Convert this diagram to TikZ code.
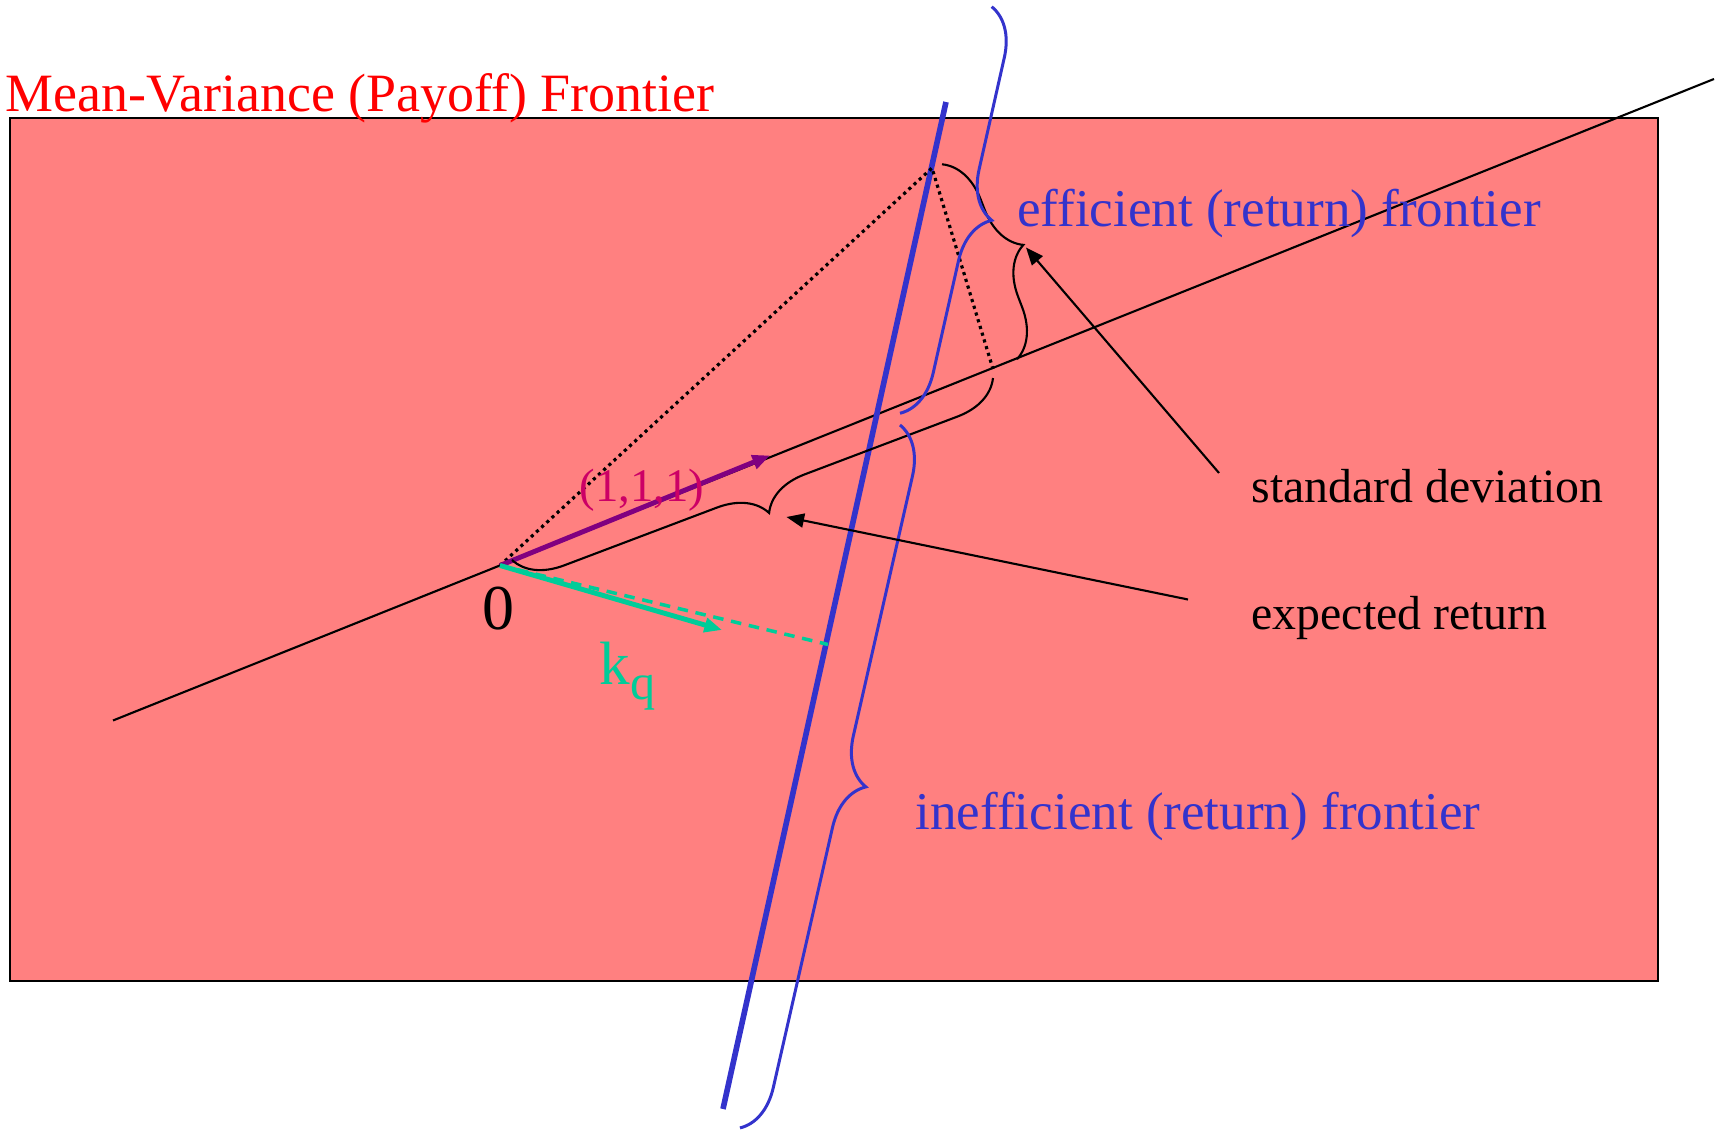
\documentclass[tikz,border=0pt]{standalone}
\usepackage{fontspec}
\setmainfont{Liberation Serif}
\usepackage{tikz}
\usetikzlibrary{arrows.meta, decorations.pathreplacing}
\definecolor{PanelSalmon}{HTML}{FF8080}
\definecolor{TitleRed}{HTML}{FF0000}
\definecolor{FrontierBlue}{HTML}{3333CC}
\definecolor{KqGreen}{HTML}{00CC99}
\definecolor{OnesPurple}{HTML}{800080}
\definecolor{OnesCrimson}{HTML}{CC0066}

\tikzset{
  bigtext/.style={anchor=base west, inner sep=0pt, font=\fontsize{15.1pt}{18pt}\selectfont},
  smalltext/.style={anchor=base west, inner sep=0pt, font=\fontsize{13.6pt}{16pt}\selectfont},
  blackbrace/.style={decorate, line width=0.6pt, decoration={brace, amplitude=0.47cm}},
  bluebrace/.style={decorate, line width=0.85pt, color=FrontierBlue, decoration={brace, amplitude=0.47cm}}
}

\begin{document}
\begin{tikzpicture}[>={Triangle[length=5pt,width=4pt]}]
  \useasboundingbox (0,0) rectangle (17.25,11.31);

  % Panel and title
  \draw[line width=0.5pt, fill=PanelSalmon] (0.10,1.50) rectangle (16.58,10.13);
  \node[bigtext, color=TitleRed, font=\fontsize{15.35pt}{18pt}\selectfont] (title) at (0.05,10.19) {Mean-Variance (Payoff) Frontier};

  % Key points
  \coordinate (L1) at (1.13,4.105);
  \coordinate (L2) at (17.14,10.52);
  \coordinate (O) at (5.00,5.655);
  \coordinate (B1) at (9.46,10.29);
  \coordinate (B2) at (7.23,0.22);
  \coordinate (T) at (9.32,9.63);
  \coordinate (F) at (9.93,7.62);
  \coordinate (P) at (7.70,6.755);
  \coordinate (K) at (7.22,5.01);
  \coordinate (Kd) at (8.28,4.865);

  % Ray through (1,1,1) and the frontier line
  \draw[line width=0.6pt] (L1) -- (L2);
  \draw[line width=1.6pt, color=FrontierBlue] (B1) -- (B2);

  % Dotted triangle
  \draw[line width=0.9pt, dash pattern=on 0.9pt off 1.1pt] (O) -- (T) -- (F);

  % Vectors
  \draw[line width=1.4pt, color=OnesPurple, ->] (O) -- (P);
  \draw[line width=1pt, color=KqGreen, dash pattern=on 3pt off 2.2pt] (O) -- (Kd);
  \draw[line width=1.4pt, color=KqGreen, ->] (O) -- (K);

  % Braces
  \coordinate (erA) at (5.12,5.71);
  \coordinate (erB) at (9.93,7.53);
  \coordinate (sdA) at (9.42,9.667);
  \coordinate (sdB) at (10.17,7.717);
  \coordinate (efA) at (9.917,11.243);
  \coordinate (efB) at (9.00,7.177);
  \coordinate (inA) at (9.00,7.06);
  \coordinate (inB) at (7.40,0.03);
  \draw[blackbrace, decoration={mirror}] (erA) -- (erB);
  \draw[blackbrace] (sdA) -- (sdB);
  \draw[bluebrace] (efA) -- (efB);
  \draw[bluebrace] (inA) -- (inB);

  % Labels
  \node[anchor=base, inner sep=0pt, font=\fontsize{18.2pt}{20pt}\selectfont] (zero) at (4.987,5.01) {0};
  \node[anchor=base, inner sep=0pt, color=OnesCrimson, font=\fontsize{13.3pt}{16pt}\selectfont] (ones) at (6.42,6.293) {(1,1,1)};
  \node[anchor=base west, inner sep=0pt, color=KqGreen, font=\fontsize{17.4pt}{20pt}\selectfont] (kq) at (5.99,4.46) {k\raisebox{-4pt}{\fontsize{14.3pt}{16pt}\selectfont q}};
  \node[bigtext, color=FrontierBlue] (eff) at (10.165,9.04) {efficient (return) frontier};
  \node[bigtext, color=FrontierBlue] (ineff) at (9.15,3.01) {inefficient (return) frontier};
  \node[smalltext] (sd) at (12.51,6.287) {standard deviation};
  \node[smalltext] (er) at (12.51,5.01) {expected return};

  % Pointers
  \coordinate (sdTail) at (12.19,6.58);
  \coordinate (sdHead) at (10.26,8.835);
  \coordinate (erTail) at (11.88,5.315);
  \coordinate (erHead) at (7.865,6.14);
  \draw[line width=0.6pt, ->] (sdTail) -- (sdHead);
  \draw[line width=0.6pt, ->] (erTail) -- (erHead);
\end{tikzpicture}
\end{document}
